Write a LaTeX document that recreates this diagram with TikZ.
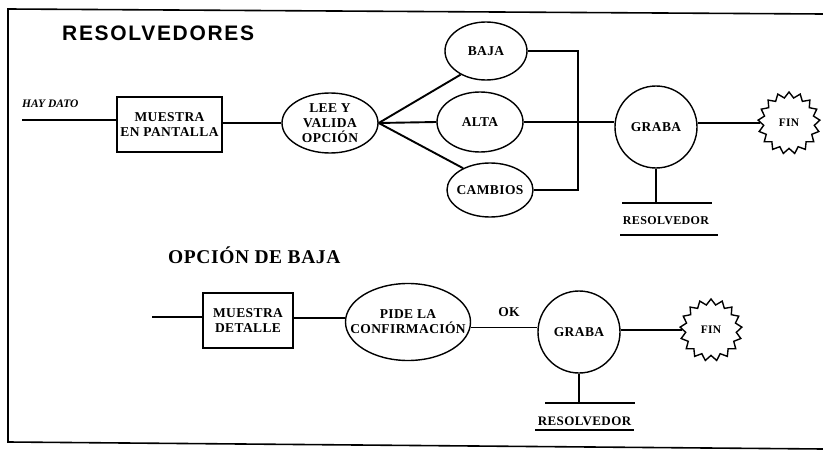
\documentclass[tikz,border=0pt]{standalone}
\usepackage{fontspec}
\setmainfont{Liberation Serif}
\newfontfamily\titlefont[LetterSpace=8]{Liberation Sans}
\newfontfamily\nodefont[LetterSpace=3]{Liberation Serif}
\newfontfamily\headfont[LetterSpace=3]{Liberation Serif}
\usetikzlibrary{shapes.geometric}
\begin{document}
\begin{tikzpicture}[x=1pt,y=-1pt,
  line/.style={line width=1.4pt},
  fanline/.style={line width=1.9pt},
  ntext/.style={inner sep=0pt,align=center,font=\nodefont\bfseries\fontsize{13.5}{15}\selectfont},
  boxnode/.style={ntext,draw,line width=1.4pt,rectangle},
  ovalnode/.style={draw,line width=1.4pt,ellipse,inner sep=0pt},
  circnode/.style={ntext,draw,line width=1.4pt,circle,minimum size=82pt},
  finnode/.style={draw,line width=1.4pt,star,star points=17,star point ratio=1.22,minimum size=62pt,inner sep=0pt,font=\nodefont\bfseries\fontsize{11.5}{13}\selectfont},
  plaintext/.style={inner sep=0pt,font=\nodefont\bfseries\fontsize{12}{14}\selectfont},
]
\useasboundingbox (0,0) rectangle (823,452);
% frame
\draw[line width=1.6pt] (823,14) -- (8,9) -- (8,442) -- (823,449);

% ---------- upper diagram ----------
\node[anchor=west,inner sep=0pt,font=\titlefont\bfseries\fontsize{21}{25}\selectfont] (title) at (62,33) {RESOLVEDORES};
\node[anchor=west,inner sep=0pt,font=\bfseries\itshape\fontsize{11.5}{13}\selectfont] (hay) at (22,104) {HAY DATO};
\coordinate (in1) at (22,120);
\node[boxnode,minimum width=105pt,minimum height=55pt] (m1) at (169.5,124.5) {MUESTRA\\EN PANTALLA};
\node[ovalnode,minimum width=96pt,minimum height=60pt] (lee) at (330,123) {};
\node[ntext] (leetxt) at (lee) {LEE Y\\VALIDA\\OPCIÓN};
\node[ovalnode,minimum width=82pt,minimum height=58pt] (baja) at (486,51) {};
\node[ntext] (bajatxt) at (baja) {BAJA};
\node[ovalnode,minimum width=86pt,minimum height=60pt] (alta) at (480,122) {};
\node[ntext] (altatxt) at (alta) {ALTA};
\node[ovalnode,minimum width=86pt,minimum height=54pt] (camb) at (490,190) {};
\node[ntext] (cambtxt) at (camb) {CAMBIOS};
\coordinate (busx) at (578,0);
\node[circnode] (graba) at (656,127) {GRABA};
\node[finnode] (fin) at (789,123) {FIN};
\coordinate (base1) at (656,203);
\coordinate (base1l) at (622,203);
\coordinate (base1r) at (712,203);
\node[plaintext,font=\nodefont\bfseries\fontsize{12}{13}\selectfont] (res1) at (666,221) {RESOLVEDOR};
\coordinate (ul1l) at (620,235);
\coordinate (ul1r) at (718,235);

\draw[line] (in1) -- (in1 -| m1.west);
\draw[line] (lee.west -| m1.east) -- (lee.west);
\draw[fanline] (lee.east) -- (baja.223);
\draw[fanline] (lee.east) -- (alta.west);
\draw[fanline] (lee.east) -- (camb.141);
\draw[line] (baja.east) -- (baja.east -| busx) -- (camb.east -| busx) -- (camb.east);
\draw[line] (alta.east) -- (alta.east -| graba.west);
\draw[line] (fin.180 -| graba.east) -- (fin.180);
\draw[line] (graba.south) -- (base1);
\draw[line] (base1l) -- (base1r);
\draw[line] (ul1l) -- (ul1r);

% ---------- lower diagram ----------
\node[anchor=west,inner sep=0pt,font=\headfont\bfseries\fontsize{19.5}{23}\selectfont] (opt) at (168,255) {OPCIÓN DE BAJA};
\coordinate (in2) at (152,317);
\node[boxnode,minimum width=90pt,minimum height=55pt] (m2) at (248,320.5) {MUESTRA\\DETALLE};
\node[ovalnode,minimum width=125pt,minimum height=77pt] (pide) at (408,322) {};
\node[ntext] (pidetxt) at (pide) {PIDE LA\\CONFIRMACIÓN};
\node[ntext] (ok) at (509,312) {OK};
\node[circnode] (graba2) at (579,332) {GRABA};
\node[finnode] (fin2) at (711,330) {FIN};
\coordinate (base2) at (579,403);
\coordinate (base2l) at (545,403);
\coordinate (base2r) at (635,403);
\node[plaintext,font=\nodefont\bfseries\fontsize{13}{14}\selectfont] (res2) at (584.5,421) {RESOLVEDOR};
\coordinate (ul2l) at (535,430);
\coordinate (ul2r) at (634,430);

\draw[line] (in2) -- (in2 -| m2.west);
\draw[line] (m2.east |- 0,318) -- (pide.west |- 0,318);
\draw[line] (pide.-5) -- (pide.-5 -| graba2.west);
\draw[line] (fin2.180 -| graba2.east) -- (fin2.180);
\draw[line] (graba2.south) -- (base2);
\draw[line] (base2l) -- (base2r);
\draw[line] (ul2l) -- (ul2r);
\end{tikzpicture}
\end{document}
